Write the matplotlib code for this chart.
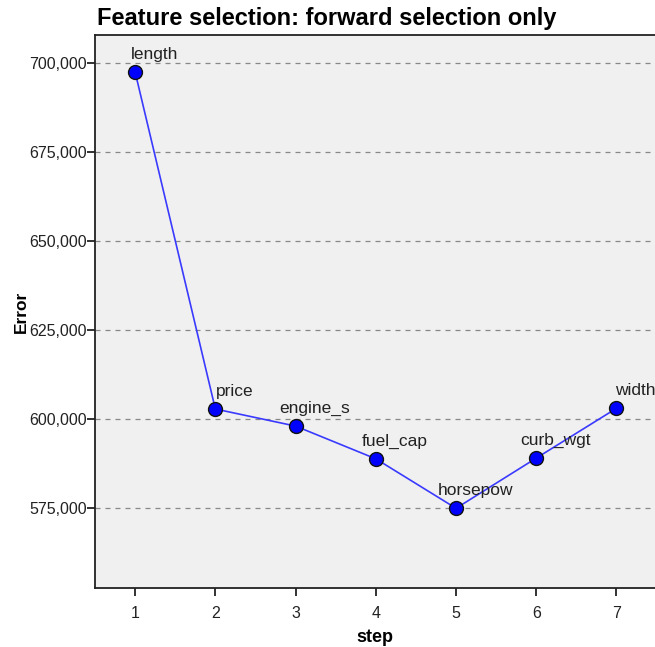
import matplotlib
matplotlib.use('Agg')
import matplotlib.pyplot as plt
from matplotlib.ticker import FuncFormatter

steps = [1, 2, 3, 4, 5, 6, 7]
errors = [697500, 602800, 598000, 588800, 574900, 589000, 603000]
features = ['length', 'price', 'engine_s', 'fuel_cap', 'horsepow', 'curb_wgt', 'width']
y_ticks = [575000, 600000, 625000, 650000, 675000, 700000]

plt.rcParams['font.family'] = ['Liberation Sans', 'DejaVu Sans']

fig = plt.figure(figsize=(6.55, 6.47), dpi=100)
ax = fig.add_axes([95 / 655, 59 / 647, 1 - 95 / 655, (588 - 35) / 647])
ax.set_facecolor('#f0f0f0')

ax.plot(steps, errors, color='#3a3aff', lw=1.2, zorder=3)
ax.plot(steps, errors, 'o', ms=10, mfc='#0000ff', mec='#111111', mew=1.0, zorder=4)

for s, e, name in zip(steps, errors, features):
    ax.annotate(name, (s, e), xytext=(19, 13), textcoords='offset pixels',
                ha='center', va='baseline', fontsize=12.5, color='#222222', zorder=5)

ax.set_xlim(0.5, 7.48)
ax.set_ylim(552500, 707900)
ax.set_xticks(steps)
ax.set_yticks(y_ticks)
ax.yaxis.set_major_formatter(FuncFormatter(lambda v, p: f'{int(v):,}'))
ax.grid(axis='y', linestyle=(0, (4, 4)), color='#888888', lw=0.9)
ax.set_axisbelow(True)

for side in ['left', 'bottom', 'top']:
    ax.spines[side].set_linewidth(1.3)
    ax.spines[side].set_color('#222222')
ax.spines['right'].set_visible(False)
ax.tick_params(axis='both', direction='out', length=6, width=1.3, color='#222222',
               labelsize=11.5, labelcolor='#222222')
ax.tick_params(axis='x', pad=7)
ax.tick_params(axis='y', pad=0)

ax.set_xlabel('step', fontsize=13, fontweight='bold', labelpad=6)
ax.set_ylabel('Error', fontsize=12.5, fontweight='bold', labelpad=0)
ax.set_title('Feature selection: forward selection only', loc='left', fontsize=17,
             fontweight='bold', pad=7, x=0.003)

fig.savefig('out.png', dpi=100)
